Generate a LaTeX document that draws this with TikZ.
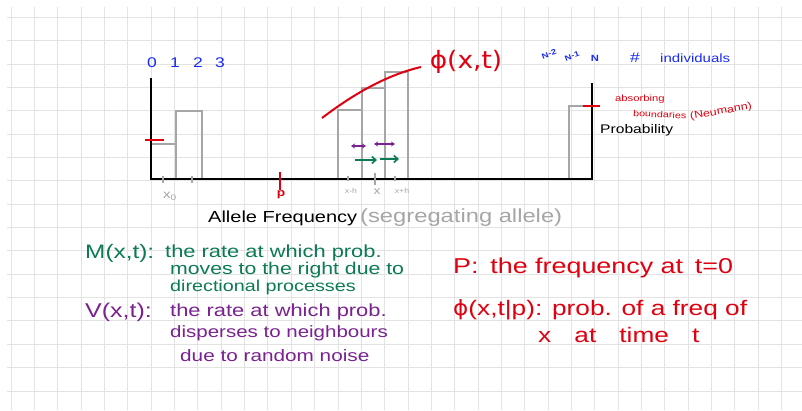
\documentclass[tikz,border=0pt]{standalone}
\usepackage{fontspec}
\setmainfont{Liberation Sans}
\newfontfamily\hand{Liberation Sans}[FakeStretch=1.25]
\newfontfamily\symf{DejaVu Sans}[FakeStretch=1.1]
\usetikzlibrary{arrows.meta}
\definecolor{hred}{HTML}{E0000F}
\definecolor{hblue}{HTML}{1A2BF5}
\definecolor{hgreen}{HTML}{0B7A55}
\definecolor{hpurple}{HTML}{7A2290}
\definecolor{hgray}{HTML}{A6A6A6}
\definecolor{gridc}{HTML}{E3E3E3}
\newcommand{\fs}[1]{\hand\fontsize{#1}{#1}\selectfont}
\newcommand{\wsp}{\hspace{0.55em}}
\begin{document}
\begin{tikzpicture}[x=1pt,y=-1pt,
  gridline/.style={draw=gridc,line width=0.8pt},
  axisline/.style={draw=black,line width=2pt},
  barline/.style={draw=hgray,line width=1.8pt},
  redline/.style={draw=hred,line width=2pt},
  smalltick/.style={draw=hgray,line width=1.2pt},
  txt/.style={inner sep=0pt,font=\hand},
  lw/.style={txt,anchor=west},
  purarrow/.style={draw=hpurple,line width=1.8pt,{Stealth[length=4pt,width=5pt]}-{Stealth[length=4pt,width=5pt]}},
  grnarrow/.style={draw=hgreen,line width=1.6pt,-{Straight Barb[length=4pt,width=7pt]}}]
\useasboundingbox (0,0) rectangle (802,410);
\fill[white] (0,0) rectangle (802,410);
% grid
\foreach \i in {0,...,33} \draw[gridline] ({11+23.35*\i},7) -- ({11+23.35*\i},410);
\foreach \j in {0,...,16} \draw[gridline] (7,{17.3+23.35*\j}) -- (802,{17.3+23.35*\j});
% bars left
\draw[barline] (152,144) -- (176,144) -- (176,179);
\draw[barline] (176,144) -- (176,111) -- (202,111) -- (202,179);
% bars right
\draw[barline] (338,179) -- (338,110) -- (362,110) -- (362,179);
\draw[barline] (362,110) -- (362,88) -- (385,88) -- (385,179);
\draw[barline] (385,88) -- (385,72) -- (408,72) -- (408,179);
\draw[barline] (569,179) -- (569,106) -- (592,106);
% axes
\draw[axisline] (151,78) -- (151,179) -- (592,179) -- (592,83);
% ticks
\draw[smalltick] (163,176) -- (163,183);
\draw[smalltick] (192,176) -- (192,183);
\draw[smalltick] (348,176) -- (348,181);
\draw[smalltick] (375,173) -- (375,185);
\draw[smalltick] (395,176) -- (395,181);
\draw[redline] (145,140) -- (164,140);
\draw[redline] (280,172) -- (280,190);
\draw[redline] (583,106) -- (600,106);
% red curve
\draw[redline] (322,118) .. controls (347,99) and (382,76) .. (421,67);
% arrows
\coordinate (pa1) at (351,146); \coordinate (pa2) at (366,146);
\coordinate (pb1) at (374,144); \coordinate (pb2) at (395,144);
\coordinate (ga1) at (355,160); \coordinate (ga2) at (377,160);
\coordinate (gb1) at (380,159); \coordinate (gb2) at (399,159);
\draw[purarrow] (pa1) -- (pa2);
\draw[purarrow] (pb1) -- (pb2);
\draw[grnarrow] (ga1) -- (ga2);
\draw[grnarrow] (gb1) -- (gb2);
% top labels
\node[txt,text=hblue,font=\fs{14}] (n0) at (152,63) {0};
\node[txt,text=hblue,font=\fs{14}] (n1) at (175,63) {1};
\node[txt,text=hblue,font=\fs{14}] (n2) at (198,63) {2};
\node[txt,text=hblue,font=\fs{14}] (n3) at (220,63) {3};
\node[txt,text=hblue,font=\fs{7.5}\bfseries,rotate=20] (nm2) at (549,54) {N-2};
\node[txt,text=hblue,font=\fs{7.5}\bfseries,rotate=20] (nm1) at (572,56) {N-1};
\node[txt,text=hblue,font=\fs{9}\bfseries] (nn) at (595,58) {N};
\node[txt,text=hblue,font=\fs{14}] (hash) at (635,58) {\#};
\node[lw,text=hblue,font=\fs{12}] (indiv) at (660,58) {individuals};
\node[txt,text=hred,font=\symf\fontsize{24}{24}\selectfont] (phi) at (466,62) {ϕ(x,t)};
\node[lw,text=hred,font=\fs{9}] (abs1) at (615,99) {absorbing};
\node[lw,text=hred,font=\fs{8.6},rotate=-3] (abs2) at (633,113) {boundaries};
\node[lw,text=hred,font=\fs{10},rotate=10] (abs3) at (690,117) {(Neumann)};
\node[lw,text=black,font=\fs{12.5}] (prob) at (600,130) {Probability};
% axis labels
\node[txt,text=hgray,font=\fs{12}] (x0) at (170,196) {x\textsubscript{0}};
\node[txt,text=hred,font=\fs{11}\bfseries] (pl) at (281,195) {p};
\node[txt,text=hgray,font=\fs{7}] (xmh) at (351,191) {x-h};
\node[txt,text=hgray,font=\fs{11}] (xl) at (377,192) {x};
\node[txt,text=hgray,font=\fs{7}] (xph) at (402,191) {x+h};
\node[lw,text=black,font=\fs{16}] (af) at (208,218) {Allele Frequency};
\node[lw,text=hgray,font=\fs{19}] (seg) at (360,218) {(segregating allele)};
% green text
\node[lw,text=hgreen,font=\fs{19.5}] (m0) at (85,253) {M(x,t):};
\node[lw,text=hgreen,font=\fs{17.5}] (m1) at (165,253) {the rate at which prob.};
\node[lw,text=hgreen,font=\fs{17}] (m2) at (170,270) {moves to the right due to};
\node[lw,text=hgreen,font=\fs{15.8}] (m3) at (170,287) {directional processes};
% purple text
\node[lw,text=hpurple,font=\fs{20}] (v0) at (85,312) {V(x,t):};
\node[lw,text=hpurple,font=\fs{17.5}] (v1) at (170,312) {the rate at which prob.};
\node[lw,text=hpurple,font=\fs{16.4}] (v2) at (170,333) {disperses to neighbours};
\node[lw,text=hpurple,font=\fs{16.6}] (v3) at (180,356) {due to random noise};
% red text
\node[lw,text=hred,font=\fs{21.5}] (r1) at (453,268) {P:\wsp the frequency at\wsp t=0};
\node[lw,text=hred,font=\fs{21}] (r2) at (453,310) {{\symf ϕ}(x,t|p): prob. of a freq of};
\node[lw,text=hred,font=\fs{21}] (r3) at (538,335) {x\wsp\wsp at\wsp\wsp time\wsp\wsp t};
\end{tikzpicture}
\end{document}
